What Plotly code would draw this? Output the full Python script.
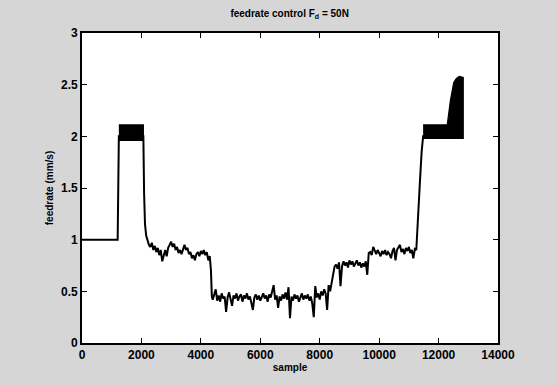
import plotly.graph_objects as go

# ---- data ----
# sparse parts: (sample, feedrate)
start_samples = [0, 1200, 1240]
start_values = [1.0, 1.0, 2.0]

# drop after the first oscillation band
drop_samples = [2065, 2090, 2120, 2160]
drop_values = [2.0, 1.45, 1.15, 1.04]

# noisy segment 1 (starts at 2200, every 50 samples)
seg1_start, seg1_step = 2200, 50
seg1_values = [1.00, 0.95, 0.93, 0.97, 0.90, 0.94, 0.88, 0.92, 0.85, 0.90,
               0.79, 0.86, 0.90, 0.84, 0.92, 0.95, 0.98, 0.93, 0.96, 0.90,
               0.93, 0.87, 0.90, 0.86, 0.92, 0.95, 0.90, 0.92, 0.86, 0.88,
               0.82, 0.85, 0.80, 0.86, 0.88, 0.84, 0.89, 0.86, 0.90, 0.85,
               0.88, 0.80, 0.84]
step1_samples = [4340, 4370]
step1_values = [0.70, 0.45]

# noisy segment 2 (starts at 4400, every 50 samples)
seg2_start, seg2_step = 4400, 50
seg2_values = [0.42, 0.47, 0.52, 0.41, 0.46, 0.40, 0.48, 0.43, 0.45, 0.30,
               0.44, 0.49, 0.42, 0.36, 0.46, 0.43, 0.48, 0.41, 0.45, 0.47,
               0.40, 0.46, 0.43, 0.48, 0.42, 0.45, 0.39, 0.32, 0.44, 0.47,
               0.42, 0.46, 0.41, 0.45, 0.48, 0.43, 0.46, 0.40, 0.47, 0.44,
               0.50, 0.56, 0.42, 0.46, 0.34, 0.45, 0.41, 0.47, 0.43, 0.49,
               0.42, 0.54, 0.24, 0.45, 0.41, 0.47, 0.43, 0.46, 0.40, 0.44,
               0.48, 0.42, 0.46, 0.43, 0.47, 0.41, 0.45, 0.38, 0.25, 0.55,
               0.44, 0.48, 0.42, 0.50, 0.46, 0.52, 0.48, 0.32, 0.56, 0.50,
               0.58]
step2_samples = [8450, 8500]
step2_values = [0.69, 0.74]

# noisy segment 3 (starts at 8550, every 50 samples)
seg3_start, seg3_step = 8550, 50
seg3_values = [0.76, 0.72, 0.78, 0.55, 0.74, 0.79, 0.75, 0.78, 0.73, 0.80,
               0.76, 0.79, 0.74, 0.77, 0.80, 0.75, 0.78, 0.73, 0.77, 0.74,
               0.79, 0.66]
step3_samples = [9650]
step3_values = [0.87]

# noisy segment 4 (starts at 9700, every 50 samples)
seg4_start, seg4_step = 9700, 50
seg4_values = [0.88, 0.85, 0.93, 0.89, 0.86, 0.90, 0.87, 0.84, 0.89, 0.86,
               0.90, 0.85, 0.88, 0.86, 0.82, 0.89, 0.92, 0.80, 0.90, 0.93,
               0.95, 0.88, 0.91, 0.86, 0.92, 0.89, 0.93, 0.87, 0.90, 0.82,
               0.91, 0.90]

# rise to the second oscillation band
rise_samples = [11280, 11330, 11380, 11430, 11480, 12830]
rise_values = [1.10, 1.35, 1.60, 1.85, 2.00, 2.00]

# oscillation envelopes (dense switching between bounds)
band1_samples = [1240, 2065]
band1_low = [1.96, 1.96]
band1_high = [2.11, 2.11]

band2_samples = [11480, 12290, 12400, 12510, 12600, 12700, 12830]
band2_low = [1.98, 1.98, 1.98, 1.98, 1.98, 1.98, 1.98]
band2_high = [2.11, 2.11, 2.35, 2.52, 2.56, 2.58, 2.57]

x_ticks = [0, 2000, 4000, 6000, 8000, 10000, 12000, 14000]
y_ticks = [0, 0.5, 1, 1.5, 2, 2.5, 3]
y_tick_text = ["0", "0.5", "1", "1.5", "2", "2.5", "3"]

# ---- assemble the series ----
def grid(start, step, vals):
    return [start + step * i for i in range(len(vals))]

sample = (start_samples + drop_samples
          + grid(seg1_start, seg1_step, seg1_values) + step1_samples
          + grid(seg2_start, seg2_step, seg2_values) + step2_samples
          + grid(seg3_start, seg3_step, seg3_values) + step3_samples
          + grid(seg4_start, seg4_step, seg4_values) + rise_samples)
feedrate = (start_values + drop_values
            + seg1_values + step1_values
            + seg2_values + step2_values
            + seg3_values + step3_values
            + seg4_values + rise_values)

FONT = "Liberation Sans, Arial, sans-serif"
fig = go.Figure()

for bx, blo, bhi in [(band1_samples, band1_low, band1_high),
                     (band2_samples, band2_low, band2_high)]:
    fig.add_trace(go.Scatter(
        x=bx + bx[::-1], y=bhi + blo[::-1], mode="lines",
        fill="toself", fillcolor="black",
        line=dict(color="black", width=1.2), hoverinfo="skip", showlegend=False))

fig.add_trace(go.Scatter(x=sample, y=feedrate, mode="lines",
                         line=dict(color="black", width=2.0),
                         showlegend=False))

fig.update_layout(
    width=557, height=386,
    margin=dict(l=82, r=59, t=33, b=43),
    paper_bgcolor="#d6d6d6", plot_bgcolor="white",
    font=dict(family=FONT, color="black", size=12),
    title=dict(text="<b>feedrate control F<sub>d</sub> = 50N</b>",
               x=0.52, xanchor="center", y=0.965, yanchor="middle",
               font=dict(size=10, family=FONT)),
    xaxis=dict(range=[0, 14000], tickvals=x_ticks,
               ticktext=[f"<b>{v}</b>" for v in x_ticks],
               ticks="inside", ticklen=5, tickcolor="black", tickwidth=1.2,
               showgrid=False, zeroline=False, showline=True, mirror="ticks",
               linecolor="black", linewidth=1.8,
               title=dict(text="<b>sample</b>", font=dict(size=10), standoff=3),
               tickfont=dict(size=12)),
    yaxis=dict(range=[0, 3], tickvals=y_ticks,
               ticktext=[f"<b>{t}</b>" for t in y_tick_text],
               ticks="inside", ticklen=5, tickcolor="black", tickwidth=1.2,
               showgrid=False, zeroline=False, showline=True, mirror="ticks",
               linecolor="black", linewidth=1.8,
               title=dict(text="<b>feedrate (mm/s)</b>", font=dict(size=10), standoff=6),
               tickfont=dict(size=12)),
)

fig.write_html("out.html")
